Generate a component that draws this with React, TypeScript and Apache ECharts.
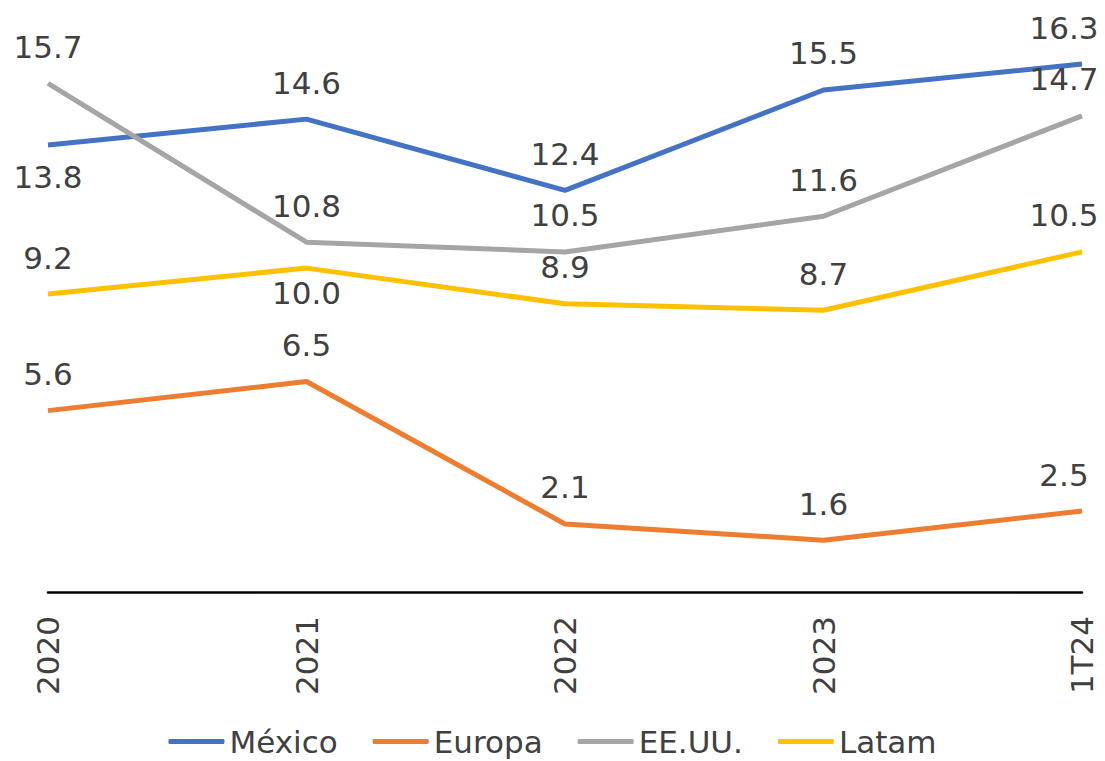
import React, { useEffect, useRef } from "react";
import * as echarts from "echarts";

const categories = ["2020", "2021", "2022", "2023", "1T24"];
const seriesNames = ["México", "Europa", "EE.UU.", "Latam"];
const mexico = [13.8, 14.6, 12.4, 15.5, 16.3];
const europa = [5.6, 6.5, 2.1, 1.6, 2.5];
const eeuu = [15.7, 10.8, 10.5, 11.6, 14.7];
const latam = [9.2, 10.0, 8.9, 8.7, 10.5];
const colors = ["#4472C4", "#ED7D31", "#A5A5A5", "#FFC000"];

// labels placed below the point: series index -> {point index: distance}
const belowLabels: Record<number, Record<number, number>> = {
  0: { 0: 16 },
  3: { 1: 9 },
};

const FONT = "DejaVu Sans, Verdana, sans-serif";
const TEXT = "#404040";
const FS = 31;

function buildData(values: number[], si: number) {
  return values.map((v, i) => {
    const label: any = { show: true };
    const below = belowLabels[si] && belowLabels[si][i];
    if (below !== undefined) {
      label.position = "bottom";
      label.distance = below;
    }
    if (i === values.length - 1) {
      label.offset = [-18, 0];
    }
    return { value: v, label };
  });
}

export default function App() {
  const ref = useRef<HTMLDivElement>(null);
  useEffect(() => {
    if (!ref.current) return;
    const chart = echarts.init(ref.current, null, { renderer: "svg" });
    const all = [mexico, europa, eeuu, latam];
    chart.setOption({
      animation: false,
      color: colors,
      textStyle: { fontFamily: FONT },
      grid: { left: 48, right: 23, top: 9, bottom: 169, containLabel: false },
      legend: {
        data: seriesNames.map((n) => ({ name: n, icon: "roundRect" })),
        top: 721,
        left: "center",
        itemWidth: 56,
        itemHeight: 5,
        itemGap: 35,
        textStyle: { fontSize: FS, lineHeight: 31, color: TEXT, fontFamily: FONT },
      },
      xAxis: {
        type: "category",
        data: categories,
        boundaryGap: false,
        axisLine: { show: true, lineStyle: { color: "#000000", width: 2.5 } },
        axisTick: { show: false },
        axisLabel: {
          rotate: 90,
          margin: 24,
          fontSize: FS,
          color: TEXT,
          fontFamily: FONT,
        },
        splitLine: { show: false },
      },
      yAxis: {
        type: "value",
        min: 0,
        max: 18,
        show: false,
        splitLine: { show: false },
      },
      series: all.map((vals, si) => ({
        name: seriesNames[si],
        type: "line",
        symbol: "circle",
        symbolSize: 0,
        showSymbol: true,
        itemStyle: { color: colors[si] },
        lineStyle: { width: 5, color: colors[si] },
        data: buildData(vals, si),
        label: {
          show: true,
          position: "top",
          distance: 21,
          fontSize: FS,
          lineHeight: 31,
          color: TEXT,
          fontFamily: FONT,
          formatter: (p: any) => Number(p.value).toFixed(1),
        },
      })),
    });
    return () => chart.dispose();
  }, []);
  return (
    <div
      ref={ref}
      style={{ position: "fixed", left: 0, top: 0, width: 1105, height: 761, background: "#fff" }}
    />
  );
}
